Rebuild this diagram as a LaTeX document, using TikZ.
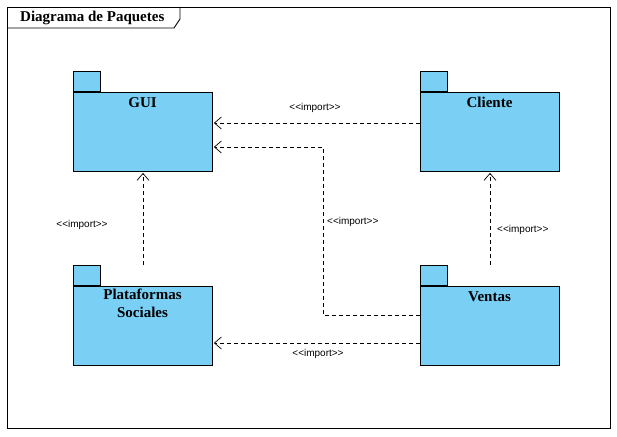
\documentclass[tikz,border=0pt]{standalone}
\usepackage{fontspec}
\setmainfont{Liberation Serif}
\setsansfont{Liberation Sans}
\usetikzlibrary{arrows.meta}
\definecolor{pkgfill}{RGB}{122,207,245}
\tikzset{
  pkgbody/.style={draw=black, line width=0.9pt, fill=pkgfill, minimum width=139pt, minimum height=79pt, inner sep=0pt, anchor=north west},
  pkgtab/.style={draw=black, line width=0.9pt, fill=pkgfill, minimum width=27pt, minimum height=20pt, inner sep=0pt, anchor=south west},
  pkgname/.style={font=\fontsize{15}{18}\selectfont\bfseries, align=center, anchor=base, inner sep=0pt},
  dep/.style={black, line width=0.7pt, dash pattern=on 4pt off 3pt, -{Straight Barb[length=7pt,width=12pt,line width=0.7pt]}, shorten >=1pt},
  lbl/.style={font=\sffamily\fontsize{10}{11}\selectfont, inner sep=0pt}
}
\newcommand{\imp}{{<}{<}import{>}{>}}
\begin{document}
\begin{tikzpicture}[x=1pt,y=-1pt]
\useasboundingbox (0,0) rectangle (617,436);
% frame
\draw[line width=0.9pt] (7,7) rectangle (610,428);
\draw[line width=0.9pt] (7,28) -- (174,28) -- (180,19) -- (180,7);
\node[font=\fontsize{15}{17}\selectfont\bfseries, anchor=base west, inner sep=0pt] (title) at (20,22) {Diagrama de Paquetes};
% packages
\node[pkgtab] (guitab) at (73,92) {};
\node[pkgbody] (gui) at (73,92) {};
\node[pkgname] (guiname) at (142.5,107) {GUI};
\node[pkgtab] (clitab) at (420,92) {};
\node[pkgbody] (cli) at (420,92) {};
\node[pkgname] (cliname) at (489.5,107) {Cliente};
\node[pkgtab] (plttab) at (73,286) {};
\node[pkgbody] (plt) at (73,286) {};
\node[pkgname, anchor=north] (pltname) at (142.5,289) {Plataformas\\Sociales};
\node[pkgtab] (vtatab) at (420,286) {};
\node[pkgbody] (vta) at (420,286) {};
\node[pkgname] (vtaname) at (489.5,301) {Ventas};
% dependencies
\draw[dep] ([yshift=-31pt]cli.north west) -- ([yshift=-31pt]gui.north east);
\node[lbl] (l1) at (315,108) {\imp};
\coordinate (b1) at (323,315);
\coordinate (b2) at (323,147);
\draw[dep] ([yshift=-29pt]vta.north west) -- (b1) -- (b2) -- ([yshift=-55pt]gui.north east);
\node[lbl, anchor=west] (l2) at (327,222) {\imp};
\draw[dep] ([xshift=70pt]plttab.north west) -- ([xshift=70pt]gui.south west);
\node[lbl] (l3) at (82,225) {\imp};
\draw[dep] ([xshift=70pt]vtatab.north west) -- ([xshift=70pt]cli.south west);
\node[lbl, anchor=west] (l4) at (497,230) {\imp};
\draw[dep] ([yshift=-57pt]vta.north west) -- ([yshift=-57pt]plt.north east);
\node[lbl] (l5) at (318,354) {\imp};
\end{tikzpicture}
\end{document}
